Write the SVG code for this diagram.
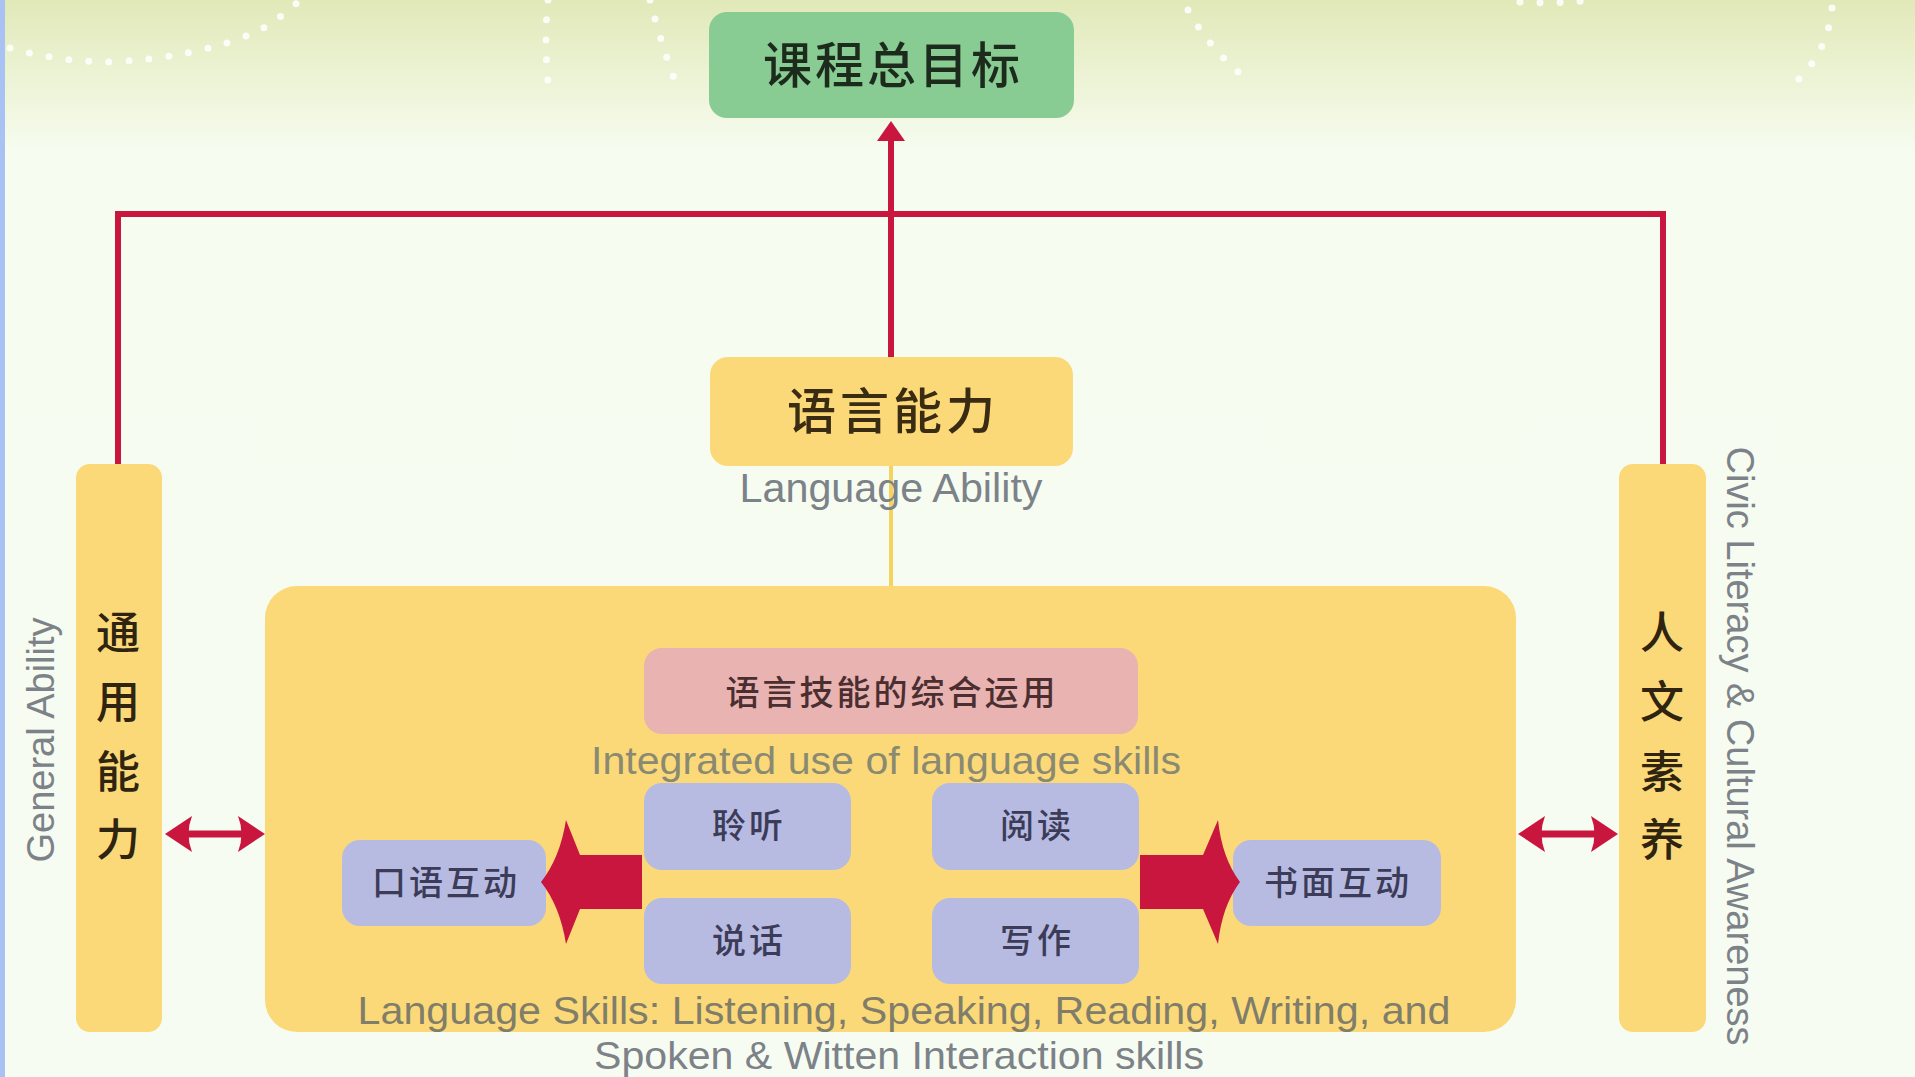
<svg xmlns="http://www.w3.org/2000/svg" width="1915" height="1077" viewBox="0 0 1915 1077">
<style>
.cn{font-family:"Noto Sans CJK SC","Noto Sans",sans-serif;text-anchor:middle}
.en{font-family:"Liberation Sans",Arial,sans-serif;text-anchor:middle}
.red{stroke:#c8163e;stroke-width:6;fill:none}
.redf{fill:#c8163e}
.skill{fill:#b7bbe2}
.skt{font-size:34px;fill:#3c3c58;letter-spacing:3px;font-weight:500}
.bar{fill:#fcd978}
.vch{font-size:44px;fill:#2e2410;font-weight:500}
.dots{stroke:#ffffff;stroke-width:7;stroke-linecap:round;stroke-dasharray:0 20;fill:none;opacity:0.85}
</style>
<defs>
<linearGradient id="bg" x1="0" y1="0" x2="0" y2="1">
<stop offset="0" stop-color="#e1e9b9"/>
<stop offset="0.08" stop-color="#eef4d8"/>
<stop offset="0.14" stop-color="#f6fcf0"/>
<stop offset="1" stop-color="#f6fcf1"/>
</linearGradient>
</defs>
<rect x="0" y="0" width="1915" height="1077" fill="url(#bg)"/>
<rect x="0" y="0" width="5" height="1077" fill="#a8c2f4"/>
<g id="decor">
<path class="dots" d="M10,48 Q60,62 110,62 Q200,58 260,30 Q285,15 300,0"/>
<path class="dots" d="M548,0 Q544,40 548,82"/>
<path class="dots" d="M650,0 Q660,40 676,84"/>
<path class="dots" d="M1188,10 Q1210,50 1250,82"/>
<path class="dots" d="M1520,2 Q1560,4 1590,0"/>
<path class="dots" d="M1832,8 Q1828,50 1798,80"/>
</g>

<g id="connectors">
<path class="red" d="M118,464 V214 H1663 V464"/>
<path class="red" d="M891,357 V136"/>
<path class="redf" d="M891,121 L905,141 L877,141 Z"/>
<line x1="891" y1="466" x2="891" y2="588" stroke="#f4d45c" stroke-width="4"/>
<g id="arrow-left-double">
<line x1="182" y1="834" x2="250" y2="834" stroke="#c8163e" stroke-width="7"/>
<path class="redf" d="M165,834 L192,816 Q185,834 192,852 Z"/>
<path class="redf" d="M265,834 L238,816 Q245,834 238,852 Z"/>
</g>
<g id="arrow-right-double">
<line x1="1535" y1="834" x2="1601" y2="834" stroke="#c8163e" stroke-width="7"/>
<path class="redf" d="M1518,834 L1545,816 Q1538,834 1545,852 Z"/>
<path class="redf" d="M1618,834 L1591,816 Q1598,834 1591,852 Z"/>
</g>
</g>

<g id="goal">
<rect x="709" y="12" width="365" height="106" rx="18" fill="#88cb93"/>
<text class="cn" x="893" y="83" font-size="49" font-weight="500" fill="#1d2b1d" letter-spacing="3">课程总目标</text>
</g>

<g id="language-ability">
<rect x="710" y="357" width="363" height="109" rx="18" fill="#fcd978"/>
<text class="cn" x="893" y="429" font-size="49" font-weight="500" fill="#3a2c12" letter-spacing="4">语言能力</text>
<text class="en" x="891" y="502" font-size="40" fill="#7c8288" textLength="303" lengthAdjust="spacingAndGlyphs">Language Ability</text>
</g>

<g id="general-ability">
<rect class="bar" x="76" y="464" width="86" height="568" rx="14"/>
<text class="cn vch" x="118" y="649">通</text>
<text class="cn vch" x="118" y="718">用</text>
<text class="cn vch" x="118" y="788">能</text>
<text class="cn vch" x="118" y="856">力</text>
<text class="en" transform="translate(54,740) rotate(-90)" font-size="38" fill="#7c8288">General Ability</text>
</g>

<g id="civic-literacy">
<rect class="bar" x="1619" y="464" width="87" height="568" rx="14"/>
<text class="cn vch" x="1662" y="649">人</text>
<text class="cn vch" x="1662" y="718">文</text>
<text class="cn vch" x="1662" y="788">素</text>
<text class="cn vch" x="1662" y="856">养</text>
<text class="en" transform="translate(1727,746) rotate(90)" font-size="38" fill="#7c8288">Civic Literacy &amp; Cultural Awareness</text>
</g>

<g id="language-skills">
<rect x="265" y="586" width="1251" height="446" rx="32" fill="#fcd978"/>
<text class="en" x="904" y="1024" font-size="39" fill="#807e6a" textLength="1093" lengthAdjust="spacingAndGlyphs">Language Skills: Listening, Speaking, Reading, Writing, and</text>
<text class="en" x="899" y="1069" font-size="39" fill="#7c8288" textLength="610" lengthAdjust="spacingAndGlyphs">Spoken &amp; Witten Interaction skills</text>
</g>

<g id="integrated">
<rect x="644" y="648" width="494" height="86" rx="18" fill="#e8b3b1"/>
<text class="cn" x="892" y="705" font-size="34" font-weight="500" fill="#4a2e30" letter-spacing="3">语言技能的综合运用</text>
<text class="en" x="886" y="774" font-size="39" fill="#8a8a72" textLength="590" lengthAdjust="spacingAndGlyphs">Integrated use of language skills</text>
</g>

<g id="listening"><rect class="skill" x="644" y="783" width="207" height="87" rx="18"/><text class="cn skt" x="749" y="838">聆听</text></g>
<g id="speaking"><rect class="skill" x="644" y="898" width="207" height="86" rx="18"/><text class="cn skt" x="749" y="953">说话</text></g>
<g id="reading"><rect class="skill" x="932" y="783" width="207" height="87" rx="18"/><text class="cn skt" x="1037" y="838">阅读</text></g>
<g id="writing"><rect class="skill" x="932" y="898" width="207" height="86" rx="18"/><text class="cn skt" x="1037" y="953">写作</text></g>
<g id="spoken-interaction"><rect class="skill" x="342" y="840" width="204" height="86" rx="18"/><text class="cn skt" x="446" y="895">口语互动</text></g>
<g id="written-interaction"><rect class="skill" x="1233" y="840" width="208" height="86" rx="18"/><text class="cn skt" x="1338" y="895">书面互动</text></g>

<g id="block-arrows">
<path class="redf" d="M642,855 L580,855 L566,820 Q560,858 541,882 Q560,906 566,944 L580,909 L642,909 Z"/>
<path class="redf" d="M1140,855 L1203,855 L1218,820 Q1222,858 1240,882 Q1222,906 1218,944 L1203,909 L1140,909 Z"/>
</g>
</svg>
